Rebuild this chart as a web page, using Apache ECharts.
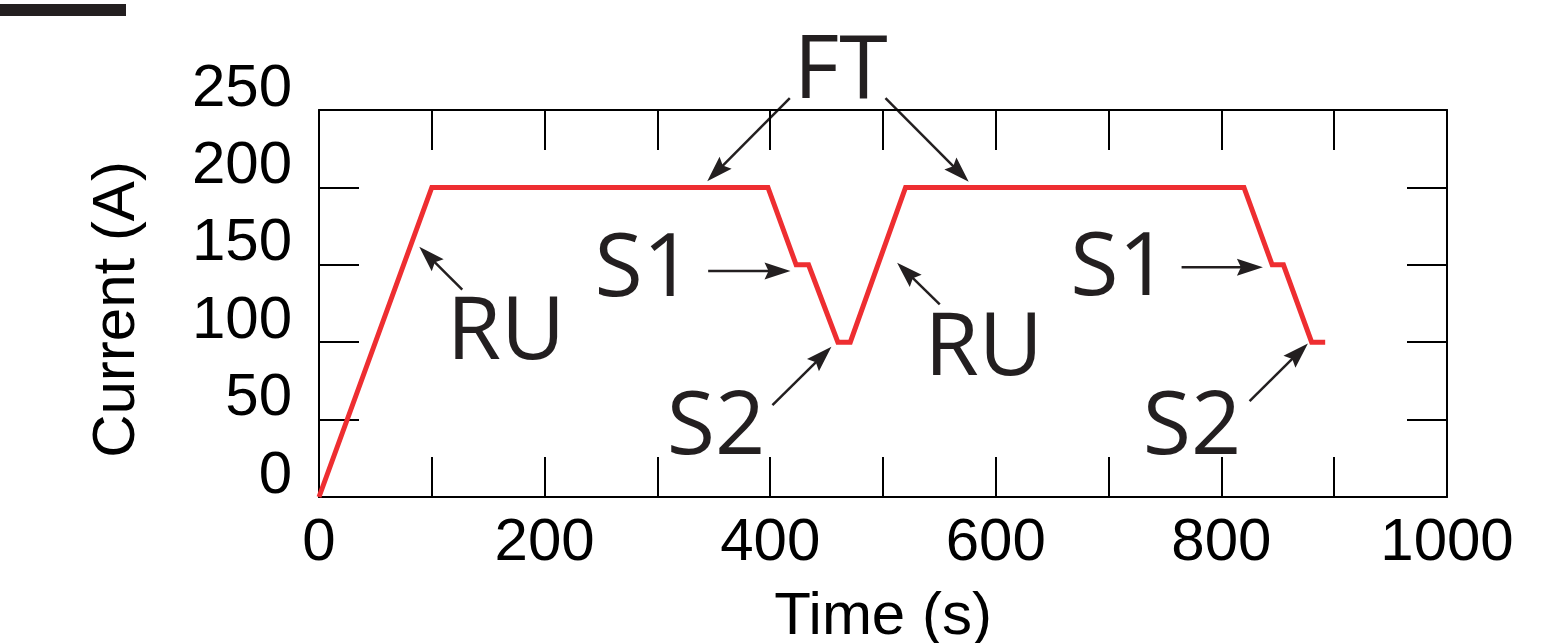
<!DOCTYPE html>
<html><head><meta charset="utf-8">
<script src="https://cdn.jsdelivr.net/npm/echarts@6/dist/echarts.min.js"></script>
<style>html,body{margin:0;padding:0;background:#fff}#c{width:1544px;height:643px}</style>
</head><body><div id="c"></div>
<script>
// Data (time in s, current in A)
const timeS    = [0, 100, 398, 423, 434, 460, 471, 520, 820, 845, 855, 880, 892];
const currentA = [0, 200, 200, 150, 150, 100, 100, 200, 200, 150, 150, 100, 100];
const xTickLabels = [0, 200, 400, 600, 800, 1000];
const yTickLabels = [0, 50, 100, 150, 200, 250];

// Annotation texts and anchors (data coordinates)
const labelNames = ['FT', 'RU', 'S1', 'S2', 'RU', 'S1', 'S2'];
const labelX = [462.6, 165.7, 288.0, 352.0, 589.2, 709.8, 774.0];
const labelY = [274.2, 105.4, 146.3, 44.0, 94.9, 146.4, 43.8];
const arrowFromX = [417.4, 502.2, 127.0, 345.0, 402.0, 550.3, 764.7, 825.0];
const arrowFromY = [257.7, 257.7, 134.0, 146.0, 59.3, 124.4, 148.4, 61.9];
const arrowToX   = [344.2, 576.0, 88.9, 418.0, 454.3, 512.5, 836.8, 876.7];
const arrowToY   = [204.0, 203.6, 161.6, 146.0, 97.0, 151.3, 148.4, 99.2];

const ink = '#231f20';
const tickFont = 'Liberation Sans';

const chart = echarts.init(document.getElementById('c'), null, {renderer: 'canvas'});

function frameAxis(pos, isX, showLabels) {
  const ax = {
    type: 'value',
    position: pos,
    min: 0,
    max: isX ? 1000 : 250,
    interval: isX ? 100 : 50,
    axisLine: {show: true, onZero: false, lineStyle: {color: '#000', width: 2}},
    axisTick: {show: true, inside: true, length: 40, lineStyle: {color: '#000', width: 2}},
    splitLine: {show: false},
    axisLabel: {show: false}
  };
  if (showLabels) {
    const list = isX ? xTickLabels : yTickLabels;
    ax.axisLabel = {
      show: true,
      formatter: v => (list.indexOf(v) >= 0 ? String(v) : ''),
      fontSize: 60,
      fontFamily: tickFont,
      color: '#000',
      margin: isX ? 16 : 27,
      showMinLabel: true,
      showMaxLabel: true
    };
    if (!isX) {
      ax.axisLabel.verticalAlign = 'bottom';
      ax.axisLabel.lineHeight = 42;
    } else {
      ax.name = 'Time (s)';
      ax.nameLocation = 'middle';
      ax.nameGap = 90;
      ax.nameTextStyle = {fontSize: 60, fontFamily: tickFont, color: '#000'};
    }
  }
  return ax;
}

chart.setOption({
  animation: false,
  backgroundColor: '#fff',
  grid: {left: 319, right: 97, top: 110, bottom: 146, containLabel: false, outerBoundsMode: 'none'},
  xAxis: [frameAxis('bottom', true, true), frameAxis('top', true, false)],
  yAxis: [frameAxis('left', false, true), frameAxis('right', false, false)],
  series: [{
    type: 'line',
    xAxisIndex: 0,
    yAxisIndex: 0,
    data: timeS.map((t, i) => [t, currentA[i]]),
    symbol: 'none',
    showSymbol: false,
    clip: false,
    lineStyle: {color: '#ee2e31', width: 5, join: 'miter', cap: 'butt'},
    z: 3
  }]
});

function px(x, y) {
  return chart.convertToPixel({xAxisIndex: 0, yAxisIndex: 0}, [x, y]);
}

const graphics = [];
// decorative bar at top-left
graphics.push({type: 'rect', shape: {x: 0, y: 4, width: 126, height: 12}, style: {fill: ink}, silent: true});

// y-axis title, rotated, placed left of the axis
const yMid = px(0, 125);
graphics.push({
  type: 'text', x: yMid[0] - 202, y: yMid[1] + 6, rotation: Math.PI / 2, silent: true,
  style: {text: 'Current (A)', fill: '#000', font: '60px "Liberation Sans"', align: 'center', verticalAlign: 'middle'}
});

for (let i = 0; i < labelNames.length; i++) {
  const p = px(labelX[i], labelY[i]);
  graphics.push({
    type: 'text', x: p[0], y: p[1], silent: true,
    style: {text: labelNames[i], fill: ink, font: '88px "Open Sans"', align: 'center', verticalAlign: 'middle'}
  });
}

const headLen = 26, headHalf = 8.5, notch = 4;
for (let i = 0; i < arrowFromX.length; i++) {
  const a = px(arrowFromX[i], arrowFromY[i]);
  const b = px(arrowToX[i], arrowToY[i]);
  const dx = b[0] - a[0], dy = b[1] - a[1];
  const len = Math.hypot(dx, dy);
  const ux = dx / len, uy = dy / len;
  const nx = -uy, ny = ux;
  const bx = b[0] - headLen * ux, by = b[1] - headLen * uy;
  graphics.push({
    type: 'line', silent: true,
    shape: {x1: a[0], y1: a[1], x2: b[0] - (headLen - notch - 1) * ux, y2: b[1] - (headLen - notch - 1) * uy},
    style: {stroke: ink, lineWidth: 2.5}
  });
  graphics.push({
    type: 'polygon', silent: true,
    shape: {points: [
      [b[0], b[1]],
      [bx + headHalf * nx, by + headHalf * ny],
      [b[0] - (headLen - notch) * ux, b[1] - (headLen - notch) * uy],
      [bx - headHalf * nx, by - headHalf * ny]
    ]},
    style: {fill: ink}
  });
}

chart.setOption({graphic: graphics});
</script>
</body></html>
